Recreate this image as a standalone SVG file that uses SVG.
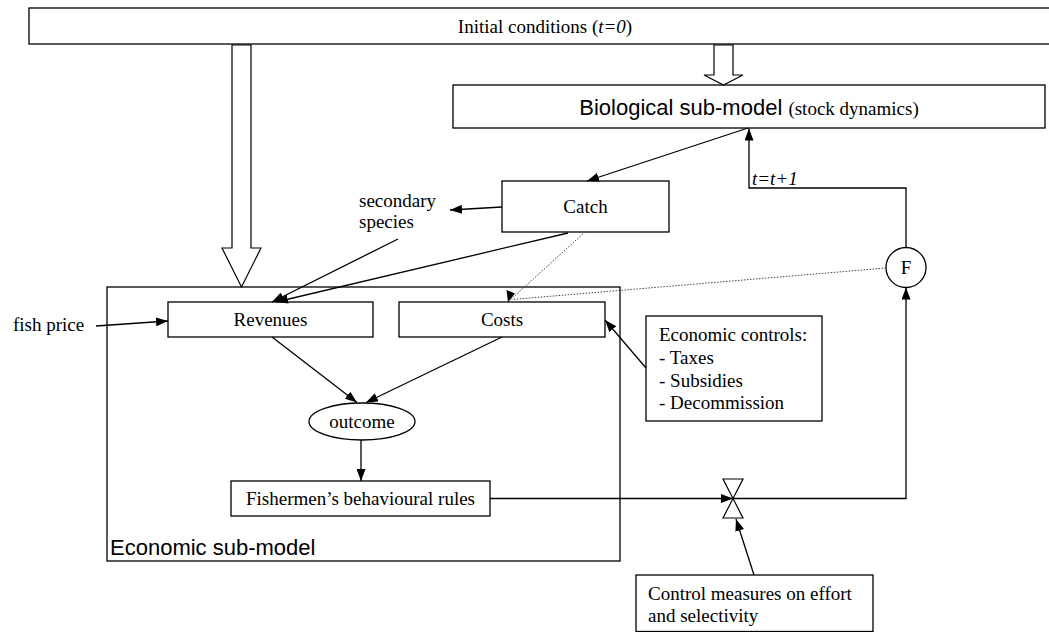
<svg xmlns="http://www.w3.org/2000/svg" width="1049" height="632" viewBox="0 0 1049 632">
<style>
.box{fill:#fff;stroke:#000;stroke-width:1.3}
.t{font-family:"Liberation Serif","Times New Roman",serif;font-size:19px;fill:#000}
.s{font-family:"Liberation Sans",Arial,sans-serif;font-size:22px;fill:#000}
.ln{fill:none;stroke:#000;stroke-width:1.3}
.dot{fill:none;stroke:#444;stroke-width:1;stroke-dasharray:1.5 1.5}
.hollow{fill:#fff;stroke:#000;stroke-width:1.2}
</style>
<defs>
<marker id="ah" viewBox="0 0 12 9" refX="12" refY="4.5" markerWidth="12" markerHeight="9" markerUnits="userSpaceOnUse" orient="auto">
<path d="M0,0 L12,4.5 L0,9 z" fill="#000"/>
</marker>
</defs>
<rect width="1049" height="632" fill="#fff"/>

<g id="initial">
<rect class="box" x="29" y="8" width="1040" height="36"/>
<text class="t" x="545" y="32.5" text-anchor="middle">Initial conditions (<tspan font-style="italic">t=0</tspan>)</text>
</g>

<g id="economic-submodel">
<rect class="box" x="107" y="287" width="513" height="274"/>
<text class="s" x="110" y="555">Economic sub-model</text>
</g>

<g id="biological">
<rect class="box" x="453" y="85" width="592" height="43"/>
<text x="749" y="114.5" text-anchor="middle"><tspan class="s">Biological sub-model </tspan><tspan class="t">(stock dynamics)</tspan></text>
</g>

<g id="catch">
<rect class="box" x="502" y="181" width="167" height="51"/>
<text class="t" x="585.5" y="213" text-anchor="middle">Catch</text>
</g>

<g id="secondary-species">
<text class="t" x="359" y="207">secondary</text>
<text class="t" x="359" y="228">species</text>
</g>

<g id="fish-price">
<text class="t" x="13" y="331">fish price</text>
</g>

<g id="revenues">
<rect class="box" x="168" y="302" width="205" height="35"/>
<text class="t" x="270.5" y="326" text-anchor="middle">Revenues</text>
</g>

<g id="costs">
<rect class="box" x="399" y="302" width="206" height="35"/>
<text class="t" x="502" y="326" text-anchor="middle">Costs</text>
</g>

<g id="economic-controls">
<rect class="box" x="646" y="316" width="176" height="105"/>
<text class="t" x="659" y="341">Economic controls:</text>
<text class="t" x="659" y="363.5">- Taxes</text>
<text class="t" x="659" y="386.5">- Subsidies</text>
<text class="t" x="659" y="409">- Decommission</text>
</g>

<g id="outcome">
<ellipse class="box" cx="362" cy="421.5" rx="53" ry="18.5"/>
<text class="t" x="362" y="428" text-anchor="middle">outcome</text>
</g>

<g id="fishermen">
<rect class="box" x="231" y="481" width="259" height="35"/>
<text class="t" x="360.5" y="505" text-anchor="middle">Fishermen’s behavioural rules</text>
</g>

<g id="F">
<circle class="box" cx="906" cy="267.5" r="20"/>
<text class="t" x="906" y="274" text-anchor="middle">F</text>
</g>

<g id="valve">
<path class="hollow" d="M723,479 L743,479 L733,498.5 Z M723,518 L743,518 L733,498.5 Z"/>
</g>

<g id="control-measures">
<rect class="box" x="636" y="575" width="237" height="56.5"/>
<text class="t" x="648" y="600">Control measures on effort</text>
<text class="t" x="648" y="622">and selectivity</text>
</g>

<g id="connectors">
<polygon class="hollow" points="232,45 251,45 251,248 261,248 241.5,287 222,248 232,248"/>
<polygon class="hollow" points="714,45 733,45 733,75 743,75 723.5,85 704,75 714,75"/>
<line class="ln" x1="748" y1="128" x2="587" y2="181" marker-end="url(#ah)"/>
<polyline class="ln" points="906,247.5 906,188 749,188 749,128.5" marker-end="url(#ah)"/>
<text class="t" x="752" y="185" font-style="italic" font-size="18">t=t+1</text>
<line class="ln" x1="502" y1="207" x2="450" y2="210" marker-end="url(#ah)"/>
<line class="ln" x1="398" y1="239" x2="272" y2="302" marker-end="url(#ah)"/>
<line class="ln" x1="568" y1="233" x2="276" y2="302" marker-end="url(#ah)"/>
<line class="dot" x1="585" y1="232" x2="508" y2="302"/>
<path d="M508,302 L506.5,290 L515,293.5 z" fill="#000"/>
<line class="dot" x1="886" y1="268" x2="512" y2="299.5"/>
<line class="ln" x1="96" y1="326" x2="168" y2="321" marker-end="url(#ah)"/>
<line class="ln" x1="646" y1="368" x2="605" y2="320" marker-end="url(#ah)"/>
<line class="ln" x1="272" y1="337" x2="357" y2="402.5" marker-end="url(#ah)"/>
<line class="ln" x1="502" y1="337" x2="366" y2="402.5" marker-end="url(#ah)"/>
<line class="ln" x1="361" y1="440" x2="361" y2="481" marker-end="url(#ah)"/>
<line class="ln" x1="490" y1="498.5" x2="733" y2="498.5" marker-end="url(#ah)"/>
<polyline class="ln" points="733,498.5 906,498.5 906,287.5" marker-end="url(#ah)"/>
<line class="ln" x1="754" y1="575" x2="736" y2="519" marker-end="url(#ah)"/>
</g>
</svg>
